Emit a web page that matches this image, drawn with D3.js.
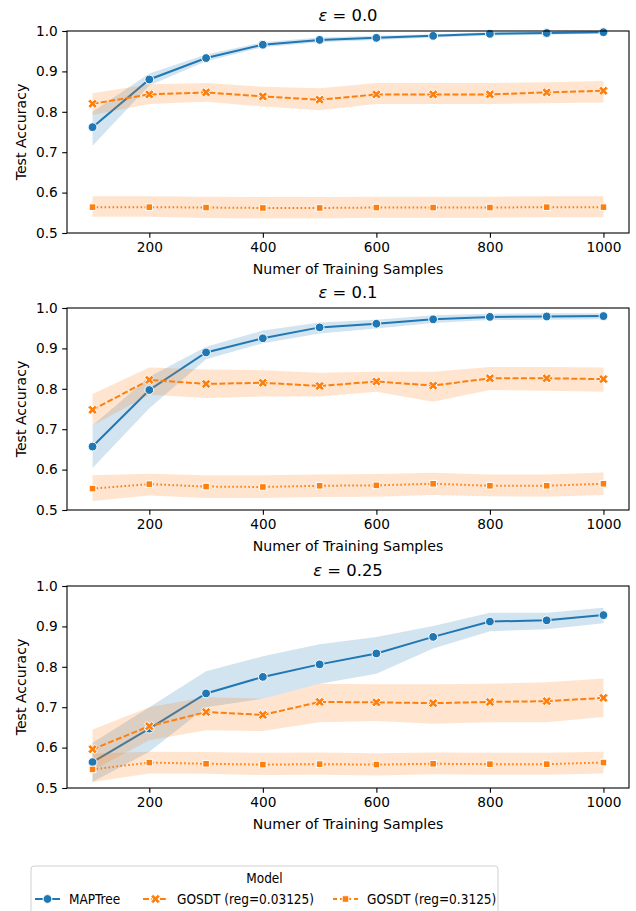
<!DOCTYPE html>
<html><head><meta charset="utf-8">
<script src="https://cdn.jsdelivr.net/npm/d3@7"></script>
<style>
body{margin:0;background:#fff;}
svg text{font-family:"DejaVu Sans",sans-serif;fill:#000;}
svg text.leg{font-family:"DejaVu Sans Condensed","DejaVu Sans",sans-serif;font-stretch:condensed;}
</style></head>
<body><svg id="c" width="636" height="911"></svg>
<script>
const samples = [100,200,300,400,500,600,700,800,900,1000];
const panelEps = ["0.0","0.1","0.25"];
const seriesNames = ["MAPTree","GOSDT (reg=0.03125)","GOSDT (reg=0.3125)"];
const yTicks = [0.5,0.6,0.7,0.8,0.9,1.0];
const xTicks = [200,400,600,800,1000];

// eps = 0.0
const map0   = [0.762,0.880,0.933,0.966,0.978,0.983,0.988,0.993,0.995,0.997];
const map0Lo = [0.716,0.865,0.925,0.960,0.972,0.978,0.984,0.989,0.991,0.994];
const map0Hi = [0.800,0.895,0.942,0.972,0.984,0.988,0.992,0.997,0.998,0.999];
const gA0    = [0.820,0.843,0.848,0.838,0.830,0.843,0.843,0.843,0.848,0.852];
const gA0Lo  = [0.792,0.819,0.825,0.813,0.804,0.819,0.819,0.819,0.821,0.823];
const gA0Hi  = [0.846,0.868,0.871,0.862,0.858,0.871,0.871,0.871,0.873,0.876];
const gB0    = [0.564,0.564,0.563,0.562,0.562,0.563,0.563,0.563,0.564,0.564];
const gB0Lo  = [0.540,0.540,0.537,0.536,0.536,0.538,0.538,0.538,0.539,0.539];
const gB0Hi  = [0.591,0.591,0.590,0.589,0.589,0.590,0.590,0.590,0.591,0.591];

// eps = 0.1
const map1   = [0.657,0.797,0.890,0.925,0.952,0.961,0.972,0.978,0.979,0.980];
const map1Lo = [0.604,0.752,0.873,0.913,0.937,0.949,0.963,0.970,0.971,0.972];
const map1Hi = [0.709,0.830,0.904,0.944,0.964,0.971,0.982,0.986,0.987,0.987];
const gA1    = [0.748,0.822,0.812,0.815,0.807,0.818,0.808,0.826,0.826,0.824];
const gA1Lo  = [0.709,0.785,0.777,0.781,0.781,0.793,0.768,0.797,0.795,0.793];
const gA1Hi  = [0.787,0.853,0.848,0.846,0.840,0.842,0.842,0.854,0.854,0.853];
const gB1    = [0.553,0.564,0.558,0.557,0.560,0.561,0.565,0.560,0.560,0.565];
const gB1Lo  = [0.522,0.536,0.530,0.530,0.532,0.533,0.537,0.534,0.533,0.537];
const gB1Hi  = [0.586,0.590,0.586,0.586,0.588,0.589,0.592,0.588,0.588,0.593];

// eps = 0.25
const map2   = [0.564,0.647,0.734,0.775,0.806,0.833,0.874,0.912,0.915,0.928];
const map2Lo = [0.515,0.590,0.700,0.721,0.758,0.783,0.845,0.888,0.893,0.908];
const map2Hi = [0.612,0.700,0.789,0.826,0.856,0.874,0.901,0.934,0.934,0.946];
const gA2    = [0.596,0.653,0.688,0.681,0.713,0.712,0.710,0.713,0.715,0.723];
const gA2Lo  = [0.544,0.618,0.643,0.641,0.663,0.666,0.659,0.663,0.663,0.676];
const gA2Hi  = [0.645,0.700,0.725,0.721,0.758,0.757,0.757,0.758,0.762,0.771];
const gB2    = [0.546,0.563,0.560,0.558,0.559,0.558,0.560,0.559,0.559,0.563];
const gB2Lo  = [0.515,0.536,0.535,0.532,0.533,0.531,0.534,0.533,0.533,0.536];
const gB2Hi  = [0.585,0.590,0.589,0.587,0.588,0.586,0.588,0.587,0.587,0.590];

const panels = [
  [[map0,map0Lo,map0Hi],[gA0,gA0Lo,gA0Hi],[gB0,gB0Lo,gB0Hi]],
  [[map1,map1Lo,map1Hi],[gA1,gA1Lo,gA1Hi],[gB1,gB1Lo,gB1Hi]],
  [[map2,map2Lo,map2Hi],[gA2,gA2Lo,gA2Hi],[gB2,gB2Lo,gB2Hi]]
];

const colors = ["#1f77b4","#ff7f0e","#ff7f0e"];
const dashes = [null,"6,2.4","1.6,2.4"];
const markers = ["circle","x","square"];

const svg = d3.select("#c");
const L = 67, R = 629, H = 202;
const tops = [31,308,586];
const x = d3.scaleLinear().domain([55,1045]).range([L,R]);

function drawMarker(g, type, cx, cy, color){
  if(type==="circle"){
    g.append("circle").attr("cx",cx).attr("cy",cy).attr("r",4.4)
      .attr("fill",color).attr("stroke","#fff").attr("stroke-width",1);
  } else if(type==="square"){
    g.append("rect").attr("x",cx-3.3).attr("y",cy-3.3).attr("width",6.6).attr("height",6.6)
      .attr("fill",color).attr("stroke","#fff").attr("stroke-width",1);
  } else {
    g.append("path").attr("d",d3.symbol().type(d3.symbolCross).size(55)())
      .attr("transform",`translate(${cx},${cy}) rotate(45)`)
      .attr("fill",color).attr("stroke","#fff").attr("stroke-width",0.9);
  }
}

panels.forEach((series,pi)=>{
  const top = tops[pi];
  const y = d3.scaleLinear().domain([0.5,1.0]).range([top+H,top]);
  const g = svg.append("g");
  const clip = "clip"+pi;
  svg.append("clipPath").attr("id",clip).append("rect")
    .attr("x",L).attr("y",top).attr("width",R-L).attr("height",H);
  const plot = g.append("g").attr("clip-path",`url(#${clip})`);
  series.forEach(([m,lo,hi],si)=>{
    const area = d3.area().x((d,i)=>x(samples[i])).y0((d,i)=>y(lo[i])).y1((d,i)=>y(hi[i]));
    plot.append("path").datum(m).attr("d",area).attr("fill",colors[si]).attr("fill-opacity",0.2).attr("stroke","none");
    const line = d3.line().x((d,i)=>x(samples[i])).y(d=>y(d));
    const p = plot.append("path").datum(m).attr("d",line).attr("fill","none")
      .attr("stroke",colors[si]).attr("stroke-width",2);
    if(dashes[si]) p.attr("stroke-dasharray",dashes[si]);
    m.forEach((v,i)=>drawMarker(g,markers[si],x(samples[i]),y(v),colors[si]));
  });
  const xa = g.append("g").attr("transform",`translate(0,${top+H})`)
    .call(d3.axisBottom(x).tickValues(xTicks).tickFormat(d3.format("d")).tickSize(4.8).tickPadding(4.5).tickSizeOuter(0));
  const ya = g.append("g").attr("transform",`translate(${L},0)`)
    .call(d3.axisLeft(y).tickValues(yTicks).tickFormat(d3.format(".1f")).tickSize(4.8).tickPadding(4.5).tickSizeOuter(0));
  [xa,ya].forEach(a=>{
    a.select(".domain").remove();
    a.selectAll("text").style("font-size","13.7px").attr("fill","#000");
    a.selectAll("line").attr("stroke","#000").attr("stroke-width",1.1);
  });
  g.append("rect").attr("x",L).attr("y",top).attr("width",R-L).attr("height",H)
    .attr("fill","none").attr("stroke","#000").attr("stroke-width",1.1);
  const t = g.append("text").attr("x",(L+R)/2).attr("y",top-10).attr("text-anchor","middle")
    .style("font-size","16.4px");
  t.append("tspan").style("font-style","italic").text("ε");
  t.append("tspan").text(" = " + panelEps[pi]);
  g.append("text").attr("x",(L+R)/2).attr("y",top+H+41).attr("text-anchor","middle")
    .style("font-size","14.1px").text("Numer of Training Samples");
  g.append("text").attr("transform",`translate(26,${top+H/2}) rotate(-90)`).attr("text-anchor","middle")
    .style("font-size","14.1px").text("Test Accuracy");
});

// legend
const lg = svg.append("g");
lg.append("rect").attr("x",31).attr("y",866).attr("width",467).attr("height",70).attr("rx",3)
  .attr("fill","#fff").attr("stroke","#d0d0d0").attr("stroke-width",1);
lg.append("text").attr("class","leg").attr("x",264.5).attr("y",883).attr("text-anchor","middle").style("font-size","13.5px").text("Model");
const hx = [35,143,333];
seriesNames.forEach((n,i)=>{
  const ly = 899;
  const ln = lg.append("line").attr("x1",hx[i]).attr("x2",hx[i]+25).attr("y1",ly).attr("y2",ly)
    .attr("stroke",colors[i]).attr("stroke-width",2);
  if(dashes[i]) ln.attr("stroke-dasharray",i===1?"6,2.4":"4,3");
  drawMarker(lg,markers[i],hx[i]+12.5,ly,colors[i]);
  lg.append("text").attr("class","leg").attr("x",hx[i]+34).attr("y",ly+5).style("font-size","13.5px").text(n);
});
</script></body></html>
